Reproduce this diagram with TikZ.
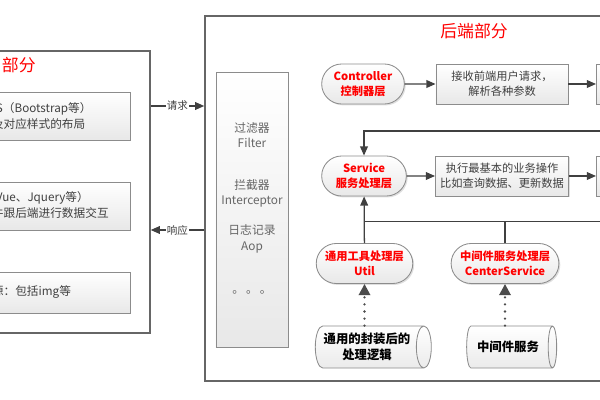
\documentclass[tikz,border=0pt]{standalone}
\usepackage{fontspec}
\setmainfont{Noto Sans CJK SC}
\usetikzlibrary{arrows.meta,shapes.misc,shapes.geometric,shadows}

\tikzset{
  frame/.style={draw=black!60, line width=1pt},
  shade/.style={top color=white, bottom color=black!9,
    drop shadow={opacity=0.25, shadow xshift=1pt, shadow yshift=-1pt}},
  panel/.style={shade, draw=black!45, line width=0.6pt},
  layer/.style={shade, rounded rectangle, draw=black!45, line width=0.6pt,
    minimum height=1cm, text=red, align=center, font=\fontsize{8}{10.5}\selectfont\bfseries},
  note/.style={panel, minimum width=3.3cm, minimum height=1cm, align=center,
    text=black!75, font=\fontsize{8}{10.8}\selectfont},
  store/.style={cylinder, shape aspect=0.4, draw=black!45, line width=0.6pt,
    top color=white, bottom color=black!8, minimum width=1.05cm, align=center,
    font=\fontsize{8.8}{11.5}\selectfont\bfseries},
  ftext/.style={text=black!75, font=\fontsize{8.3}{10.5}\selectfont},
  gtext/.style={text=black!60, align=center, font=\fontsize{8.4}{11}\selectfont},
  title/.style={text=red, font=\fontsize{12}{14}\selectfont},
  arr/.style={-{Triangle[length=6.5pt,width=5.5pt]}, draw=black!75, line width=0.9pt},
  plain/.style={draw=black!75, line width=0.9pt},
  dotarr/.style={-{Triangle[length=8pt,width=8pt]}, draw=black!70, line width=1.8pt,
    dash pattern=on 0pt off 5pt, line cap=round},
  tag/.style={fill=white, inner sep=1pt, text=black!75, font=\fontsize{7.5}{9}\selectfont}
}

\begin{document}
\begin{tikzpicture}[x=0.025cm, y=-0.025cm]
  \clip (0,0) rectangle (600,400);
  %\draw[help lines, step=50] (0,0) grid (600,400);

  % frames
  \node[frame, minimum width=3.875cm, minimum height=7.05cm] (fefr) at (72.5,192) {};
  \node[frame, minimum width=10.875cm, minimum height=9.125cm] (befr) at (422.5,198.5) {};
  \node[title, anchor=west] (fetit) at (-3,65) {部分};
  \node[title] (betit) at (474,31) {后端部分};

  % front end boxes (cut at the left)
  \node[panel, minimum width=3.5cm, minimum height=1.2cm] (fe1) at (60,116) {};
  \node[panel, minimum width=3.5cm, minimum height=1.2cm] (fe2) at (60,206) {};
  \node[panel, minimum width=3.5cm, minimum height=1.025cm] (fe3) at (60,292.5) {};
  \node[ftext, anchor=west] (fe1a) at (-9,109) {S（Bootstrap等）};
  \node[ftext, anchor=west] (fe1b) at (-13,124) {及对应样式的布局};
  \node[ftext, anchor=west] (fe2a) at (-9,198) {Vue、Jquery等）};
  \node[ftext, anchor=west] (fe2b) at (-13,213) {件跟后端进行数据交互};
  \node[ftext, anchor=west] (fe3a) at (-13,292) {源：包括img等};

  % request / response
  \coordinate (req) at (0,106);
  \coordinate (resp) at (0,230);
  \draw[arr] (fefr.east |- req) -- (befr.west |- req) node[tag, midway] {请求};
  \draw[arr] (befr.west |- resp) -- (fefr.east |- resp) node[tag, midway] {响应};

  % filter column
  \node[panel, minimum width=1.8cm, minimum height=6.875cm] (flt) at (252,209.5) {};
  \node[gtext] (flt1) at (252,135) {过滤器\\Filter};
  \node[gtext] (flt2) at (252,193.5) {拦截器\\Interceptor};
  \node[gtext] (flt3) at (252,239) {日志记录\\Aop};
  \node[gtext] (flt4) at (252,292) {。\,。\,。};

  % layers
  \node[layer, minimum width=2.3cm] (ctl) at (363,84) {Controller\\控制器层};
  \node[layer, minimum width=2.35cm] (svc) at (364,176) {Service\\服务处理层};
  \node[layer, minimum width=2.375cm] (utl) at (364.5,263.5) {通用工具处理层\\Util};
  \node[layer, minimum width=2.6cm] (csv) at (505,263.5) {中间件服务处理层\\CenterService};

  \node[note] (ctln) at (502,84) {接收前端用户请求，\\解析各种参数};
  \node[note] (svcn) at (502,176) {执行最基本的业务操作\\比如查询数据、更新数据};
  \node[panel, minimum width=1cm, minimum height=1cm, anchor=west] (ctlr) at (596,84) {};
  \node[panel, minimum width=1cm, minimum height=1cm, anchor=west] (svcr) at (596,176) {};

  \node[store, minimum height=2.9cm] (lib) at (367,347) {通用的封装后的\\处理逻辑};
  \node[store, minimum height=2.25cm] (mid) at (508,347) {中间件服务};

  % connectors
  \draw[arr] (ctl) -- (ctln);
  \draw[arr] (ctln) -- (ctlr);
  \draw[arr] (svc) -- (svcn);
  \draw[arr] (svcn) -- (svcr);
  \coordinate (back) at (620,131);
  \draw[arr] (back) -| (svc.north);
  \draw[arr] (utl) -- (svc);
  \coordinate (join) at (620,221.5);
  \draw[plain] (svc.south |- join) -- (join);
  \draw[plain] (csv.north) -- (csv.north |- join);
  \draw[dotarr] (utl.south |- lib.north) -- (utl.south);
  \draw[dotarr] (csv.south |- mid.north) -- (csv.south);
\end{tikzpicture}
\end{document}
